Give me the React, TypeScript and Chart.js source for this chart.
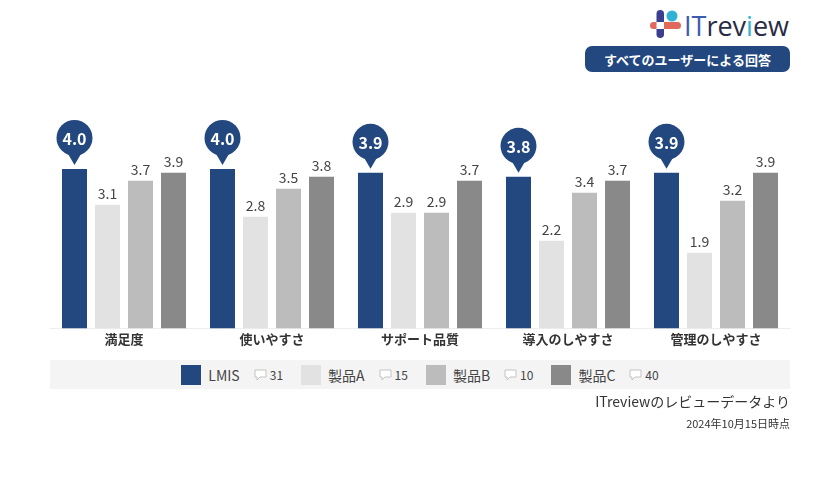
import React, { useEffect, useRef } from "react";
import { Chart, registerables } from "chart.js";

Chart.register(...registerables);

const categories = ["満足度", "使いやすさ", "サポート品質", "導入のしやすさ", "管理のしやすさ"];
const seriesNames = ["LMIS", "製品A", "製品B", "製品C"];
const reviewCounts = [31, 15, 10, 40];
const lmisValues = [4.0, 4.0, 3.9, 3.8, 3.9];
const productAValues = [3.1, 2.8, 2.9, 2.2, 1.9];
const productBValues = [3.7, 3.5, 2.9, 3.4, 3.2];
const productCValues = [3.9, 3.8, 3.7, 3.7, 3.9];
const seriesColors = ["#23477f", "#e2e2e2", "#bcbcbc", "#898989"];

const FONT = "'Noto Sans CJK JP', 'Noto Sans', sans-serif";

const labelPlugin = {
  id: "valueLabels",
  afterDatasetsDraw(chart: any) {
    const ctx = chart.ctx;
    chart.data.datasets.forEach((ds: any, di: number) => {
      const meta = chart.getDatasetMeta(di);
      meta.data.forEach((el: any, i: number) => {
        const v = ds.data[i];
        const txt = v.toFixed(1);
        ctx.save();
        if (di === 0) {
          const cx = el.x;
          const cy = el.y - 31;
          const r = 18;
          ctx.fillStyle = seriesColors[0];
          ctx.beginPath();
          ctx.arc(cx, cy, r, 0, Math.PI * 2);
          ctx.fill();
          ctx.beginPath();
          ctx.moveTo(cx - 7, cy + r - 3);
          ctx.lineTo(cx + 7, cy + r - 3);
          ctx.lineTo(cx, el.y - 4);
          ctx.closePath();
          ctx.fill();
          ctx.fillStyle = "#ffffff";
          ctx.font = `bold 16px ${FONT}`;
          ctx.textAlign = "center";
          ctx.textBaseline = "middle";
          ctx.fillText(txt, cx, cy + 1);
        } else {
          ctx.fillStyle = "#444444";
          ctx.font = `14px ${FONT}`;
          ctx.textAlign = "center";
          ctx.textBaseline = "bottom";
          ctx.fillText(txt, el.x, el.y - 4);
        }
        ctx.restore();
      });
    });
  },
};

function CommentIcon() {
  return (
    <svg width="13" height="12" viewBox="0 0 13 12" style={{ marginRight: 3 }}>
      <path d="M1 1 H12 V8 H6 L3 11 V8 H1 Z" fill="#ffffff" stroke="#c4c4c4" strokeWidth="1" />
    </svg>
  );
}

export default function App() {
  const canvasRef = useRef<HTMLCanvasElement | null>(null);

  useEffect(() => {
    if (!canvasRef.current) return;
    const chart = new Chart(canvasRef.current, {
      type: "bar",
      data: {
        labels: categories,
        datasets: [lmisValues, productAValues, productBValues, productCValues].map((d, i) => ({
          label: seriesNames[i],
          data: d,
          backgroundColor: seriesColors[i],
          categoryPercentage: 0.892,
          barPercentage: 0.758,
        })),
      },
      options: {
        animation: false,
        responsive: true,
        maintainAspectRatio: false,
        layout: { padding: { left: 50, right: 50, top: 129, bottom: 130 } },
        plugins: { legend: { display: false }, tooltip: { enabled: false } },
        scales: {
          y: { display: false, min: 0, max: 5 },
          x: {
            grid: { display: false, drawTicks: false },
            border: { display: true, color: "#eeeeee", width: 1 },
            ticks: { color: "#333333", font: { family: FONT, size: 13, weight: "bold" }, padding: 3 },
          },
        },
      },
      plugins: [labelPlugin],
    } as any);
    return () => chart.destroy();
  }, []);

  return (
    <div style={{ position: "absolute", left: 0, top: 0, width: 840, height: 480, background: "#fff", fontFamily: FONT, overflow: "hidden" }}>
      {/* logo */}
      <svg width="145" height="32" style={{ position: "absolute", left: 648, top: 8 }} viewBox="0 0 145 32">
        <rect x="8.5" y="2" width="7.5" height="28" rx="3.75" fill="#3a3f8f" />
        <circle cx="24" cy="8" r="5.5" fill="#2fb2d3" />
        <rect x="2" y="14" width="31" height="7" rx="3.5" fill="#e0695b" />
        <rect x="8.5" y="14" width="7.5" height="7" fill="#ffffff" />
        <text x="36" y="28" fontFamily="'Open Sans', sans-serif" fontSize="27" fontWeight="400" textLength="105" lengthAdjust="spacingAndGlyphs">
          <tspan fill="#3b5bb0">IT</tspan>
          <tspan fill="#2a2c46">rev</tspan>
          <tspan fill="#2fb2d3">i</tspan>
          <tspan fill="#2a2c46">ew</tspan>
        </text>
      </svg>
      <div style={{ position: "absolute", left: 585, top: 46, width: 205, height: 26, borderRadius: 7, background: "#23477f", color: "#fff", fontSize: 13, fontWeight: "bold", display: "flex", alignItems: "center", justifyContent: "center" }}>
        すべてのユーザーによる回答
      </div>
      <div style={{ position: "absolute", left: 0, top: 0, width: 840, height: 480 }}>
        <canvas ref={canvasRef} />
      </div>
      {/* legend */}
      <div style={{ position: "absolute", left: 50, top: 360, width: 740, height: 29, background: "#f4f4f4", display: "flex", alignItems: "center", justifyContent: "center" }}>
        {seriesNames.map((n, i) => (
          <div key={n} style={{ display: "flex", alignItems: "center", marginLeft: i === 0 ? 0 : 18 }}>
            <div style={{ width: 20, height: 20, background: seriesColors[i], marginRight: 7 }} />
            <span style={{ fontSize: 14, color: "#444", marginRight: 14 }}>{n}</span>
            <CommentIcon />
            <span style={{ fontSize: 12, color: "#444" }}>{reviewCounts[i]}</span>
          </div>
        ))}
      </div>
      <div style={{ position: "absolute", right: 50, top: 391, fontSize: 14, color: "#333" }}>ITreviewのレビューデータより</div>
      <div style={{ position: "absolute", right: 50, top: 415, fontSize: 11, color: "#333" }}>2024年10月15日時点</div>
    </div>
  );
}
